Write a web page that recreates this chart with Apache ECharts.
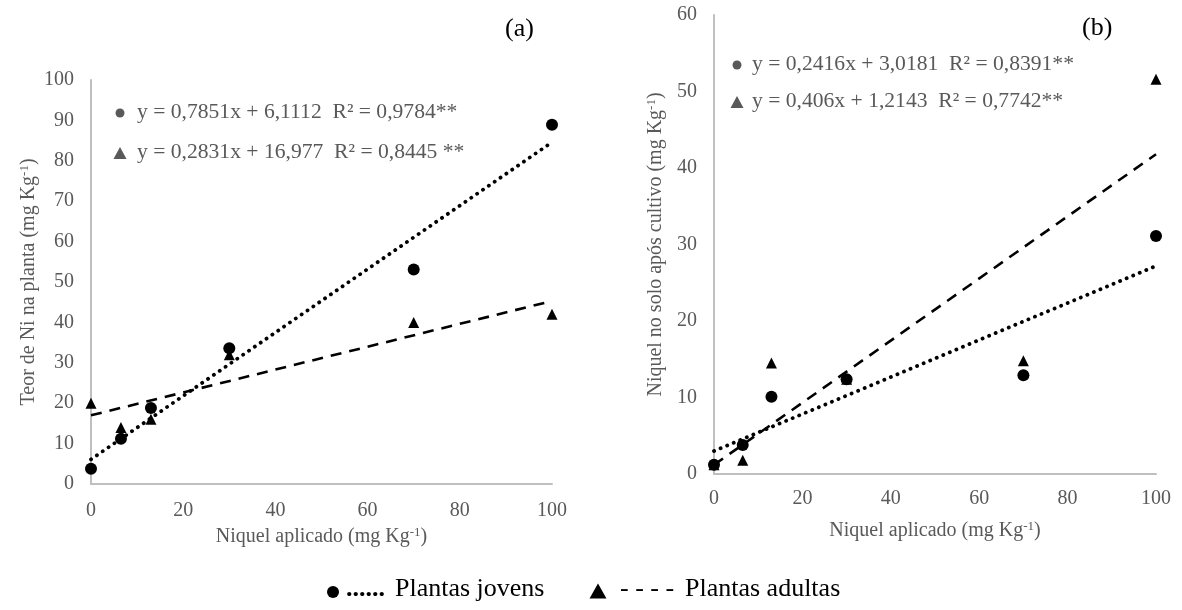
<!DOCTYPE html>
<html>
<head>
<meta charset="utf-8">
<script src="https://cdn.jsdelivr.net/npm/echarts@6/dist/echarts.min.js"></script>
<style>
  html, body { margin: 0; padding: 0; background: #fff; }
  #chart { width: 1182px; height: 610px; }
</style>
</head>
<body>
<div id="chart"></div>
<script>
// doses de níquel aplicadas (mg Kg-1)
const doses = [0, 6.5, 13, 30, 70, 100]

// (a) teor de Ni na planta
const plantaJovens  = [3.8, 11.2, 18.8, 33.6, 53.1, 88.9]
const plantaAdultas = [20, 14, 16, 32, 40, 42]
// linhas de tendência (x = 0 e x = 100)
const trendPlantaJovens  = [[0, 6.1], [100, 84.6]]
const trendPlantaAdultas = [[0, 17.0], [100, 45.3]]

// (b) níquel no solo após cultivo
const soloJovens  = [1.2, 3.8, 10.1, 12.4, 12.9, 31.1]
const soloAdultas = [1.2, 1.8, 14.5, 12.4, 14.8, 51.6]
const trendSoloJovens  = [[0, 3.0], [100, 27.2]]
const trendSoloAdultas = [[0, 1.2], [100, 41.8]]

const eqA = ['y = 0,7851x + 6,1112  R² = 0,9784**', 'y = 0,2831x + 16,977  R² = 0,8445 **']
const eqB = ['y = 0,2416x + 3,0181  R² = 0,8391**', 'y = 0,406x + 1,2143  R² = 0,7742**']

const FONT = '"Liberation Serif", "DejaVu Serif", serif'
const GREY = '#595959'
const AXIS = '#bfbfbf'

const pts = ys => doses.map((x, i) => [x, ys[i]])

const nameRich = {
  a: { fontFamily: FONT, fontSize: 20, color: GREY },
  s: { fontFamily: FONT, fontSize: 13, color: GREY, verticalAlign: 'top', padding: [0, 0, 9, 0] },
}

function xAxis(idx) {
  return {
    type: 'value', gridIndex: idx, min: 0, max: 100, interval: 20,
    name: '{a|Niquel aplicado (mg Kg}{s|-1}{a|)}',
    nameLocation: 'middle', nameGap: idx === 0 ? 37 : 46,
    nameTextStyle: { rich: nameRich },
    axisLine: { show: true, onZero: false, lineStyle: { color: AXIS, width: 2 } },
    axisTick: { show: false },
    splitLine: { show: false },
    axisLabel: { fontFamily: FONT, fontSize: 20, color: GREY, margin: idx === 0 ? 17 : 15 },
  }
}

function yAxis(idx, max, title) {
  return {
    type: 'value', gridIndex: idx, min: 0, max, interval: 10,
    name: `{a|${title} (mg Kg}{s|-1}{a|)}`,
    nameLocation: 'middle', nameGap: idx === 0 ? 51 : 47, nameRotate: 90,
    nameTextStyle: { rich: nameRich },
    axisLine: { show: true, lineStyle: { color: AXIS, width: 2 } },
    axisTick: { show: false },
    splitLine: { show: false },
    axisLabel: { fontFamily: FONT, fontSize: 20, color: GREY, margin: 17 },
  }
}

const dotted = { color: '#000', width: 3.8, type: [0.1, 7], cap: 'round' }
const dashed = { color: '#000', width: 2.6, type: [11, 8] }

function trend(idx, data, style) {
  return {
    type: 'line', xAxisIndex: idx, yAxisIndex: idx, data, symbol: 'none',
    lineStyle: style, z: 2, silent: true,
  }
}
function points(idx, data, symbol, size) {
  return {
    type: 'scatter', xAxisIndex: idx, yAxisIndex: idx, data: pts(data),
    symbol, symbolSize: size, itemStyle: { color: '#000', opacity: 1 }, z: 3,
  }
}

function txt(x, y, text, size, color, weight) {
  return {
    type: 'text', left: x, top: y,
    style: { text, fontFamily: FONT, fontSize: size, fill: color, fontWeight: weight || 'normal' },
  }
}
function dot(cx, cy, r, color) {
  return { type: 'circle', shape: { cx, cy, r }, style: { fill: color } }
}
function tri(cx, cy, w, h, color) {
  return {
    type: 'polygon',
    shape: { points: [[cx - w / 2, cy + h / 2], [cx + w / 2, cy + h / 2], [cx, cy - h / 2]] },
    style: { fill: color },
  }
}

const chart = echarts.init(document.getElementById('chart'))
chart.setOption({
  backgroundColor: '#fff',
  animation: false,
  grid: [
    { left: 91, top: 80, width: 461, height: 404 },
    { left: 714, top: 15, width: 442, height: 459 },
  ],
  xAxis: [xAxis(0), xAxis(1)],
  yAxis: [yAxis(0, 100, 'Teor de Ni na planta'), yAxis(1, 60, 'Niquel no solo após cultivo')],
  series: [
    trend(0, trendPlantaJovens, dotted),
    trend(0, trendPlantaAdultas, dashed),
    points(0, plantaJovens, 'circle', 12),
    points(0, plantaAdultas, 'triangle', 11),
    trend(1, trendSoloJovens, dotted),
    trend(1, trendSoloAdultas, dashed),
    points(1, soloJovens, 'circle', 12),
    points(1, soloAdultas, 'triangle', 11),
  ],
  graphic: [
    txt(505, 16, '(a)', 26, '#000'),
    txt(1082, 15, '(b)', 26, '#000'),
    dot(120, 113, 4.5, GREY),
    txt(137, 101, eqA[0], 21.6, GREY),
    tri(120, 153, 13, 12, GREY),
    txt(137, 141, eqA[1], 21.6, GREY),
    dot(737, 65, 4.5, GREY),
    txt(752, 53, eqB[0], 21.6, GREY),
    tri(737, 102, 13, 12, GREY),
    txt(752, 90, eqB[1], 21.6, GREY),
    // legenda
    dot(333, 592, 6, '#000'),
    txt(346, 576, '......', 26, '#000', 'bold'),
    txt(395, 576, 'Plantas jovens', 26, '#000'),
    tri(598, 591, 17, 15, '#000'),
    txt(620, 576, '- - - -', 26, '#000'),
    txt(685, 576, 'Plantas adultas', 26, '#000'),
  ],
})
</script>
</body>
</html>
